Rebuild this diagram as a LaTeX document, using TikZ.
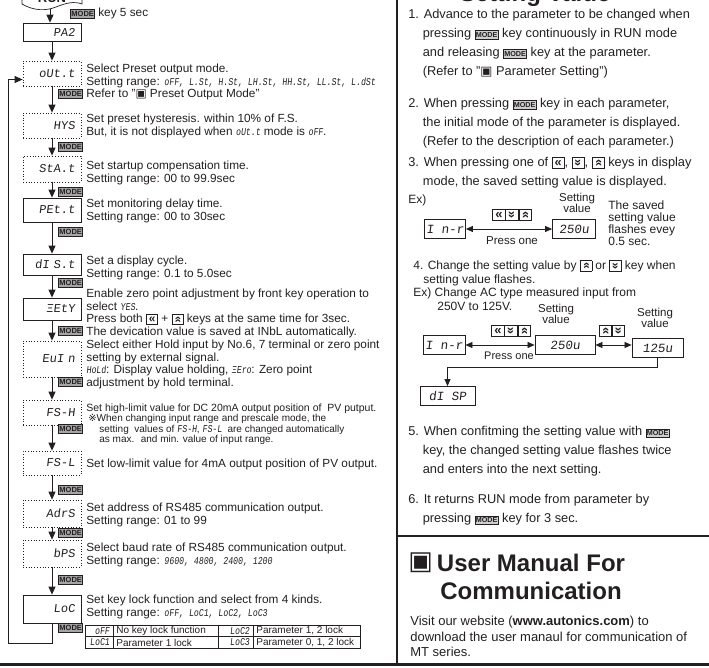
\documentclass[tikz,border=0pt]{standalone}
\usepackage{fontspec}
\usepackage{graphicx}
\setmainfont{Liberation Sans}
\newfontfamily\segf[FakeSlant=0.12,FakeStretch=0.78]{Liberation Mono}
\newfontfamily\dispf[FakeSlant=0.12]{Liberation Mono}
\newfontfamily\symf{DejaVu Sans}
\usetikzlibrary{arrows.meta}
\definecolor{ink}{RGB}{35,31,32}
\definecolor{keygray}{RGB}{165,165,165}
\newcommand{\seg}[1]{{\segf\fontsize{10.5}{12.5}\selectfont #1}}
\newcommand{\mkey}{{\setlength{\fboxsep}{0.5pt}\setlength{\fboxrule}{0.6pt}\fcolorbox{ink}{keygray}{\fontsize{7.5}{7.5}\selectfont\bfseries\rule[-1.2pt]{0pt}{7.4pt}MODE}}}
\newcommand{\mkeys}{{\setlength{\fboxsep}{0.5pt}\setlength{\fboxrule}{0.6pt}\fcolorbox{ink}{keygray!55}{\fontsize{7.2}{7.2}\selectfont\bfseries\rule[-1.1pt]{0pt}{7pt}MODE}}}
\newcommand{\kbox}[1]{{\setlength{\fboxsep}{0.4pt}\setlength{\fboxrule}{0.6pt}\fbox{\makebox[0.85em][c]{\rule[-0.08em]{0pt}{0.75em}\bfseries#1}}}}
\newcommand{\kl}{\kbox{«}}
\newcommand{\kd}{\kbox{\raisebox{0.05em}{\rotatebox[origin=c]{90}{«}}}}
\newcommand{\ku}{\kbox{\raisebox{0.05em}{\rotatebox[origin=c]{-90}{«}}}}

\begin{document}
\begin{tikzpicture}[x=1pt, y=-1pt, color=ink, line width=0.7pt,
  every node/.style={inner sep=0pt, text=ink},
  disp/.style={draw=ink, line width=0.8pt, inner xsep=6pt, text width=46pt, align=right, minimum height=24pt, font=\dispf\fontsize{12}{12}\selectfont},
  dispd/.style={disp, dotted},
  rdisp/.style={draw=ink, line width=0.8pt, minimum height=19pt, font=\dispf\fontsize{12.5}{12.5}\selectfont},
  ltxt/.style={anchor=north west, align=left, font=\fontsize{11.8}{12.5}\selectfont},
  rtxt/.style={anchor=north west, align=left, font=\fontsize{12.8}{19}\selectfont},
  cell/.style={anchor=west, font=\fontsize{10}{10}\selectfont},
  keys/.style={font=\fontsize{13}{13}\selectfont},
  arr/.style={draw=ink, line width=0.9pt, -{Triangle[width=7pt,length=8pt]}},
  tarr/.style={draw=ink, line width=0.7pt, -{Triangle[width=6pt,length=7pt]}},
  dbl/.style={draw=ink, line width=0.7pt, {Triangle[width=6pt,length=7pt]}-{Triangle[width=6pt,length=7pt]}}]
\useasboundingbox (0,0) rectangle (709,668);
\clip (0,0) rectangle (709,668);

% frame
\draw[line width=1.6pt] (397,0) -- (397,664);
\draw[line width=1.2pt] (397,536) -- (709,536);
\draw[line width=3pt] (0,664.5) -- (709,664.5);

% run mode
\draw (22,-6) -- (22,4) .. controls (34,11) and (46,11) .. (56,7) .. controls (66,3) and (74,1) .. (82,4) -- (82,-6);
\node[font=\bfseries\fontsize{13}{13}\selectfont, anchor=base] (run) at (52,2.5) {RUN};
\coordinate (runb) at (50,9.5);
\node[anchor=west, font=\fontsize{11.8}{12.5}\selectfont] (mk0) at (70,13) {\mkey{} key 5 sec};

% parameter chain
\node[disp, minimum height=18pt] (pa2) at (52,32) {PA2};
\node[dispd, minimum height=25pt] (out) at (52,73.5) {oUt.t};
\node[dispd, minimum height=25pt] (hys) at (52,125.5) {HYS};
\node[dispd, minimum height=26pt] (sta) at (52,169) {StA.t};
\node[disp] (pet) at (52,210) {PEt.t};
\node[disp, minimum height=21pt] (dst) at (52,264.5) {dI S.t};
\node[disp, minimum height=22pt] (zky) at (52,309) {ΞEtY};
\node[dispd, minimum height=36pt] (ein) at (52,359) {EuI n};
\node[dispd, minimum height=25pt] (fsh) at (52,412.5) {FS-H};
\node[dispd] (fsl) at (52,463) {FS-L};
\node[dispd, minimum height=27pt] (adr) at (52,513.5) {AdrS};
\node[dispd, minimum height=27pt] (bps) at (52,553.5) {bPS};
\node[disp, minimum height=28pt] (loc) at (52,609) {LoC};

\draw[arr] (runb) -- (runb |- pa2.north);
\foreach \a/\b in {pa2/out, out/hys, hys/sta, sta/pet, pet/dst, dst/zky, zky/ein, ein/fsh, fsh/fsl, fsl/adr, adr/bps, bps/loc}
  \draw[arr] (\a) -- (\b);
\coordinate (lpb) at (8,643);
\draw[arr] (loc) |- (lpb) |- ([yshift=-6pt]out.west);

\foreach \y [count=\i] in {94,147,192,232,283,330.5,381.5,428.5,490,533,580,628}
  \node[anchor=west] (mk\i) at (58,\y) {\mkey};

% descriptions
\node[ltxt] (tout) at (86,63.8) {Select Preset output mode.\\Setting range: \seg{oFF, L.St, H.St, LH.St, HH.St, LL.St, L.dSt}\\Refer to "{\symf ▣} Preset Output Mode"};
\node[ltxt] (thys) at (86,114) {Set preset hysteresis. within 10\% of F.S.\\But, it is not displayed when \seg{oUt.t} mode is \seg{oFF}.};
\node[ltxt] (tsta) at (86,161) {Set startup compensation time.\\Setting range: 00 to 99.9sec};
\node[ltxt] (tpet) at (86,199) {Set monitoring delay time.\\Setting range: 00 to 30sec};
\node[ltxt] (tdst) at (86,256) {Set a display cycle.\\Setting range: 0.1 to 5.0sec};
\node[ltxt] (tzky) at (86,289) {Enable zero point adjustment by front key operation to\\select \seg{YES}.\\Press both \kl{} + \ku{} keys at the same time for 3sec.\\The devication value is saved at INbL automatically.};
\node[ltxt] (tein) at (86,340) {Select either Hold input by No.6, 7 terminal or zero point\\setting by external signal.\\\seg{HoLd}: Display value holding, \seg{ΞEro}: Zero point\\adjustment by hold terminal.};
\node[ltxt, font=\fontsize{10.5}{12}\selectfont] (tfsh) at (86,404) {Set high-limit value for DC 20mA output position of ~PV putput.};
\node[anchor=north west, align=left, font=\fontsize{10}{10.5}\selectfont] (nfsh) at (88,414) {{\symf ※}When changing input range and prescale mode, the\\\hspace*{11pt}setting ~values of \seg{FS-H}, \seg{FS-L} ~are changed automatically\\\hspace*{11pt}as max. ~and min. value of input range.};
\node[ltxt] (tfsl) at (86,459) {Set low-limit value for 4mA output position of PV output.};
\node[ltxt] (tadr) at (86,503) {Set address of RS485 communication output.\\Setting range: 01 to 99};
\node[ltxt] (tbps) at (86,543) {Select baud rate of RS485 communication output.\\Setting range: \seg{9600, 4800, 2400, 1200}};
\node[ltxt] (tloc) at (86,595) {Set key lock function and select from 4 kinds.\\Setting range: \seg{oFF, LoC1, LoC2, LoC3}};

% lock table
\draw (85,625) rectangle (360,648);
\draw (85,636.5) -- (360,636.5);
\foreach \x in {113,218,253} \draw (\x,625) -- (\x,648);
\node[cell, anchor=east] (c11) at (110,631) {\seg{oFF}};
\node[cell] (c12) at (116,631) {No key lock function};
\node[cell, anchor=east] (c13) at (250,631) {\seg{LoC2}};
\node[cell] (c14) at (256,631) {Parameter 1, 2 lock};
\node[cell, anchor=east] (c21) at (110,642.5) {\seg{LoC1}};
\node[cell] (c22) at (116,642.5) {Parameter 1 lock};
\node[cell, anchor=east] (c23) at (250,642.5) {\seg{LoC3}};
\node[cell] (c24) at (256,642.5) {Parameter 0, 1, 2 lock};

% setting value
\node[anchor=base, font=\bfseries\fontsize{24}{24}\selectfont] (shead) at (535,2) {Setting Value};
\node[rtxt] (p1) at (408,8.4) {1. Advance to the parameter to be changed when\\\hspace*{14.5pt}pressing \mkeys{} key continuously in RUN mode\\\hspace*{14.5pt}and releasing \mkeys{} key at the parameter.\\\hspace*{14.5pt}(Refer to "{\symf ▣} Parameter Setting")};
\node[rtxt] (p2) at (408,97.4) {2. When pressing \mkeys{} key in each parameter,\\\hspace*{14.5pt}the initial mode of the parameter is displayed.\\\hspace*{14.5pt}(Refer to the description of each parameter.)};
\node[rtxt] (p3) at (408,156.4) {3. When pressing one of \kl, \kd, \ku{} keys in display\\\hspace*{14.5pt}mode, the saved setting value is displayed.};
\node[anchor=west, font=\fontsize{12}{12}\selectfont] (ex1) at (408,200) {Ex)};
\node[rdisp, minimum width=41pt] (inr1) at (445,229) {I n-r};
\node[rdisp, minimum width=43pt] (v250a) at (574,229) {250u};
\draw[dbl] (inr1) -- (v250a);
\node[keys] (ky1) at (512,214.5) {\kl\kd\ku};
\node[font=\fontsize{11.5}{11.5}\selectfont] (po1) at (512,241) {Press one};
\node[align=center, font=\fontsize{11.5}{11}\selectfont] (sv1) at (577,203) {Setting\\value};
\node[anchor=north west, align=left, font=\fontsize{12}{12}\selectfont] (sav) at (608,200) {The saved\\setting value\\flashes evey\\0.5 sec.};

\node[anchor=north west, align=left, font=\fontsize{12}{13.7}\selectfont] (p4) at (413,260) {4. Change the setting value by \ku{} or \kd{} key when\\\hspace*{10pt}setting value flashes.\\Ex) Change AC type measured input from\\\hspace*{24pt}250V to 125V.};
\node[rdisp, minimum width=42pt] (inr2) at (444,345) {I n-r};
\node[rdisp, minimum width=60pt] (v250b) at (565,345) {250u};
\node[rdisp, minimum width=51pt] (v125) at (657.5,348) {125u};
\draw[dbl] (inr2) -- (v250b);
\draw[dbl] (v250b) -- (v250b -| v125.west);
\node[keys] (ky2) at (511,330.5) {\kl\kd\ku};
\node[font=\fontsize{11}{11}\selectfont] (po2) at (509,356) {Press one};
\node[align=center, font=\fontsize{11.5}{11}\selectfont] (sv2) at (556,314) {Setting\\value};
\node[keys] (ky3) at (612,330.5) {\ku\kd};
\node[align=center, font=\fontsize{11.5}{11}\selectfont] (sv3) at (655,318) {Setting\\value};
\node[rdisp, minimum width=55pt] (dsp) at (447.5,396) {dI SP};
\draw[tarr] (v125.south) -- (v125.south |- 0,367) -| (dsp);

\node[rtxt] (p5) at (408,426) {5. When confitming the setting value with \mkeys\\\hspace*{14.5pt}key, the changed setting value flashes twice\\\hspace*{14.5pt}and enters into the next setting.};
\node[rtxt] (p6) at (408,494) {6. It returns RUN mode from parameter by\\\hspace*{14.5pt}pressing \mkeys{} key for 3 sec.};

% user manual
\node[anchor=west, font=\symf\fontsize{26}{26}\selectfont] (hico) at (408,563) {▣};
\node[align=center, font=\bfseries\fontsize{24}{28}\selectfont] (head) at (531,577) {User Manual For\\Communication};
\node[anchor=north west, align=left, font=\fontsize{13}{15.5}\selectfont] (visit) at (410,616) {Visit our website (\textbf{www.autonics.com}) to\\download the user manaul for communication of\\MT series.};
\end{tikzpicture}
\end{document}
